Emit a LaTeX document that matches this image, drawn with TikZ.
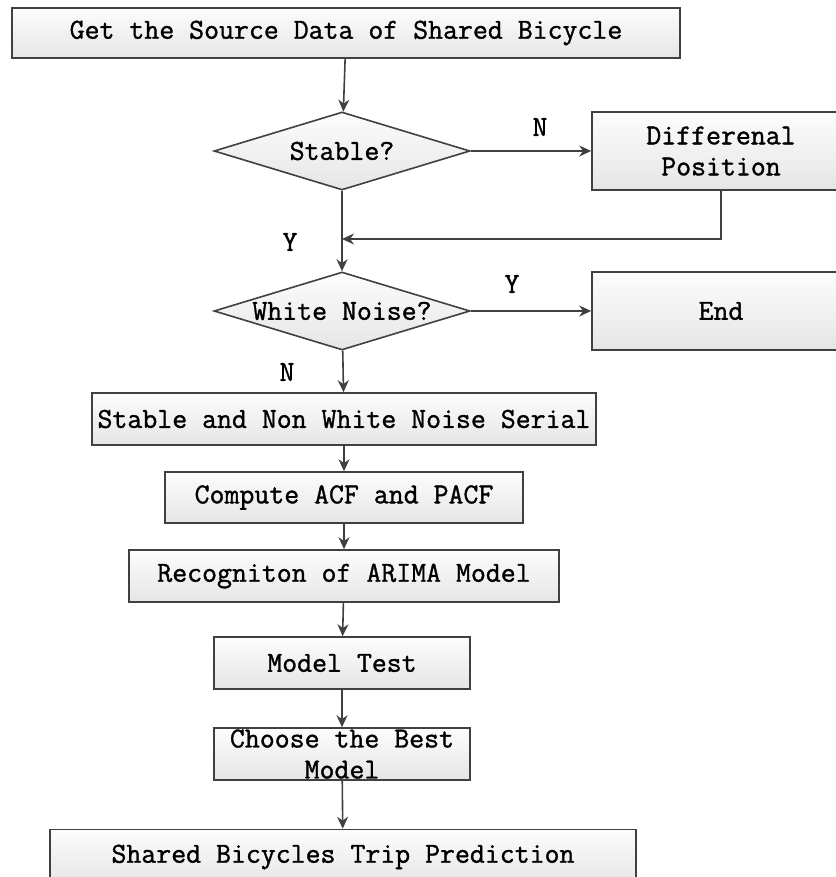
\documentclass[tikz,border=0pt]{standalone}
\usepackage{fontspec}
\usetikzlibrary{shapes.geometric,arrows.meta}
\newfontfamily\flowfont[FakeBold=1.2]{Latin Modern Mono}

\newcommand*{\picw}{835}
\newcommand*{\pich}{877}
\newcommand*{\boxh}{52}

\begin{document}
\begin{tikzpicture}
[
	x=1pt, y=-1pt,
	>={Stealth[length=12pt,width=11pt]},
	every node/.style={font=\flowfont\fontsize{29}{31}\selectfont},
	procbox/.style={rectangle,draw=black!75,line width=1.6pt,top color=gray!2,bottom color=gray!20,inner sep=0pt,minimum height=\boxh pt},
	decide/.style={diamond,draw=black!75,line width=1.6pt,top color=gray!2,bottom color=gray!20,inner sep=0pt,aspect=3.3,minimum width=256pt,minimum height=78pt},
	flow/.style={->,draw=black!75,line width=1.6pt},
	answer/.style={inner sep=0pt}
]

	\useasboundingbox (0,0) rectangle (\picw,\pich);

	% main column
	\node[procbox,minimum width=668pt,minimum height=50pt] (source) at (346,33) {Get the Source Data of Shared Bicycle};
	\node[decide] (stable) at (342,151) {Stable?};
	\node[decide] (noise) at (342,311) {White Noise?};
	\node[procbox,minimum width=504pt] (serial) at (344,419) {Stable and Non White Noise Serial};
	\node[procbox,minimum width=358pt,minimum height=51pt] (acf) at (344,497.5) {Compute ACF and PACF};
	\node[procbox,minimum width=430pt] (arima) at (344,576) {Recogniton of ARIMA Model};
	\node[procbox,minimum width=256pt] (test) at (342,663) {Model Test};
	\node[procbox,minimum width=256pt,align=center] (best) at (342,754) {Choose the Best\\Model};
	\node[procbox,minimum width=586pt,minimum height=55pt] (predict) at (343,857) {Shared Bicycles Trip Prediction};

	% right column
	\node[procbox,minimum width=258pt,minimum height=78pt,align=center] (diff) at (721,151) {Differenal\\Position};
	\node[procbox,minimum width=258pt,minimum height=78pt] (end) at (721,311) {End};

	\coordinate (join) at (342,239);

	% connectors
	\draw[flow] (source) -- (stable);
	\draw[flow] (stable) -- (diff);
	\draw[flow] (diff.south) |- (join);
	\draw[flow] (stable) -- (noise);
	\draw[flow] (noise) -- (end);
	\draw[flow] (noise) -- (serial);
	\draw[flow] (serial) -- (acf);
	\draw[flow] (acf) -- (arima);
	\draw[flow] (arima) -- (test);
	\draw[flow] (test) -- (best);
	\draw[flow] (best) -- (predict);

	% branch labels
	\node[answer] (stableN) at (540,127) {N};
	\node[answer] (stableY) at (290,242) {Y};
	\node[answer] (noiseY) at (512,284) {Y};
	\node[answer] (noiseN) at (287,372) {N};

\end{tikzpicture}
\end{document}
